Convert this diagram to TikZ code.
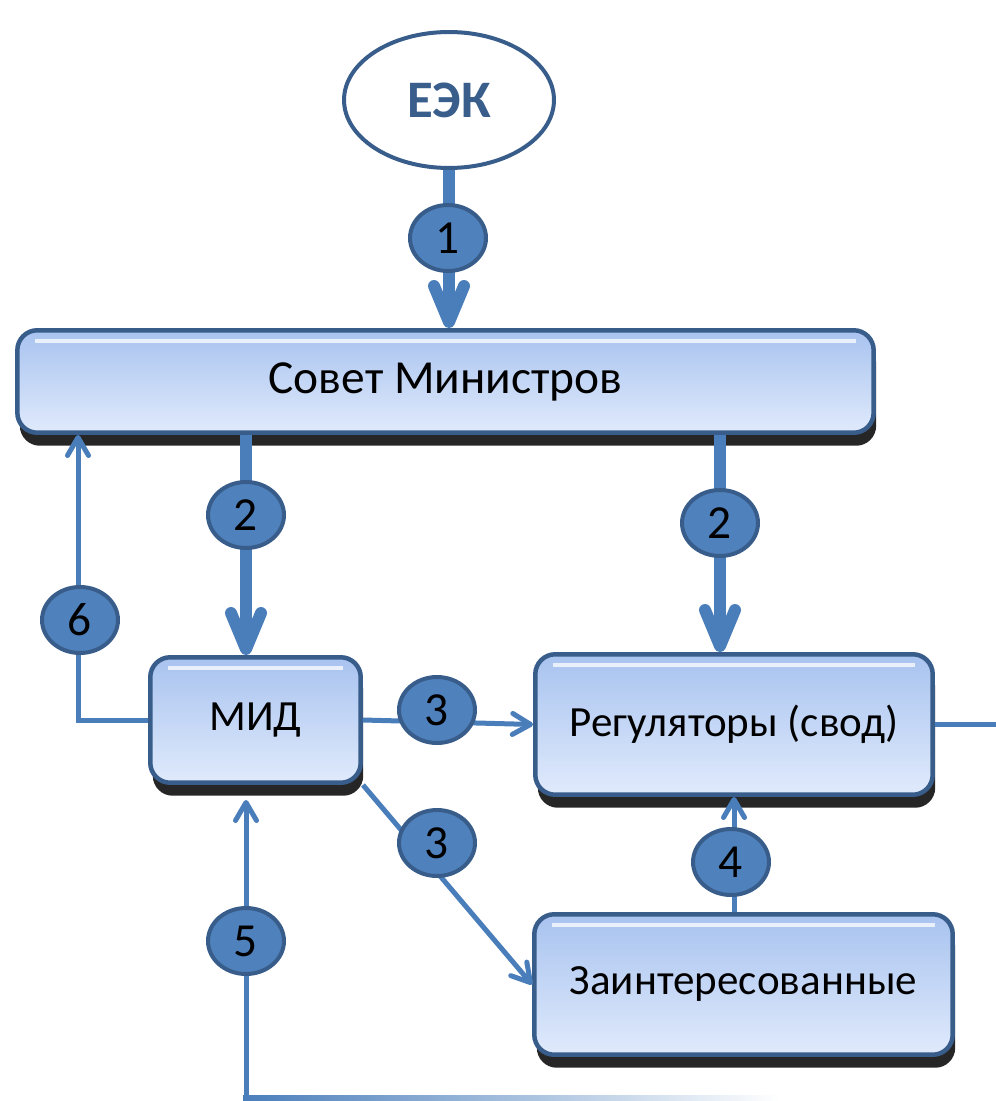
\documentclass[tikz,border=0pt]{standalone}
\usepackage{fontspec}
\setmainfont{Carlito}
\usepackage[dvipsnames, svgnames, x11names]{xcolor}
\usepackage{tikz}
\definecolor{Lnk}{RGB}{74,126,187}
\definecolor{Bdg}{RGB}{79,129,189}
\definecolor{Bdg1}{RGB}{56,93,138}
\definecolor{Box}{RGB}{168,195,239}
\definecolor{Box1}{RGB}{224,234,252}
\definecolor{Ttl}{RGB}{58,94,140}
\usetikzlibrary{shadows, shapes.geometric, arrows.meta}

\begin{document}
\begin{tikzpicture}[x=0.02cm, y=-0.02cm,
    blok/.style={rounded corners=0.4cm, draw=Bdg1, line width=0.09cm,
                 top color=Box, bottom color=Box1, inner sep=0pt,
                 drop shadow={shadow xshift=0.05cm, shadow yshift=-0.26cm,
                              fill=black, opacity=0.85},
                 path picture={\draw[white, opacity=0.75, line width=0.08cm]
                   ([xshift=0.35cm, yshift=-0.22cm]path picture bounding box.north west) --
                   ([xshift=-0.35cm, yshift=-0.22cm]path picture bounding box.north east);},
                 font=\fontsize{24.5}{29}\selectfont},
    badge/.style={ellipse, fill=Bdg, draw=Bdg1, line width=0.08cm,
                  minimum width=1.52cm, minimum height=1.32cm, inner sep=0pt,
                  font=\fontsize{27}{32}\selectfont},
    bigarrow/.style={draw=Lnk, line width=0.24cm,
                     -{Straight Barb[length=0.72cm, width=0.6cm, round]}},
    link/.style={draw=Lnk, line width=0.1cm,
                 -{Straight Barb[length=0.36cm, width=0.42cm, round]}}]
    \useasboundingbox (0,0) rectangle (996,1101);

    % boxes
    \node[ellipse, draw=Bdg1, line width=0.08cm, fill=white, minimum width=4.2cm,
          minimum height=2.72cm, text=Ttl,
          font=\fontsize{30}{34}\selectfont\bfseries] (ek) at (449,100) {ЕЭК};
    \node[blok, minimum width=17.13cm, minimum height=2.05cm,
          font=\fontsize{27}{32}\selectfont] (sovet) at (445.5,381.5)
          {Совет Министров};
    \node[blok, minimum width=4.21cm, minimum height=2.51cm] (mid) at (255.5,720) {МИД};
    \node[blok, minimum width=7.95cm, minimum height=2.81cm] (reg) at (734,724.5)
          {Регуляторы (свод)};
    \node[blok, minimum width=8.37cm, minimum height=2.81cm] (zain) at (743.5,984.5)
          {Заинтересованные};

    \coordinate (mx) at (246,1098);
    \coordinate (rx) at (720,0);
    \coordinate (lx) at (78,0);
    \coordinate (out) at (996,724.5);

    % links
    \draw[bigarrow] (ek.south) -- (ek.south |- sovet.north);
    \draw[bigarrow] (sovet.south -| mx) -- (mid.north -| mx);
    \draw[bigarrow] (sovet.south -| rx) -- (reg.north -| rx);
    \draw[link] (mid.east) -- (reg.west);
    \draw[link] (mid.south east) -- (zain.west);
    \draw[link] (zain.north -| reg.south) -- (reg.south);
    \draw[link, shorten >=0.3cm] (mx) -- (mid.south -| mx);
    \draw[link] (mid.west) -| (sovet.south -| lx);
    \draw[draw=Lnk, line width=0.1cm] (reg.east) -- (out);
    \shade[left color=Lnk, right color=white] (243,1095.5) rectangle (780,1100.5);

    % numbers
    \node[badge] (n1) at (448,238) {1};
    \node[badge] (n2a) at (246,515) {2};
    \node[badge] (n2b) at (720,523) {2};
    \node[badge] (n3a) at (437,710) {3};
    \node[badge] (n3b) at (437,843) {3};
    \node[badge] (n4) at (731,862) {4};
    \node[badge] (n5) at (246,941) {5};
    \node[badge] (n6) at (80,620) {6};
\end{tikzpicture}
\end{document}
